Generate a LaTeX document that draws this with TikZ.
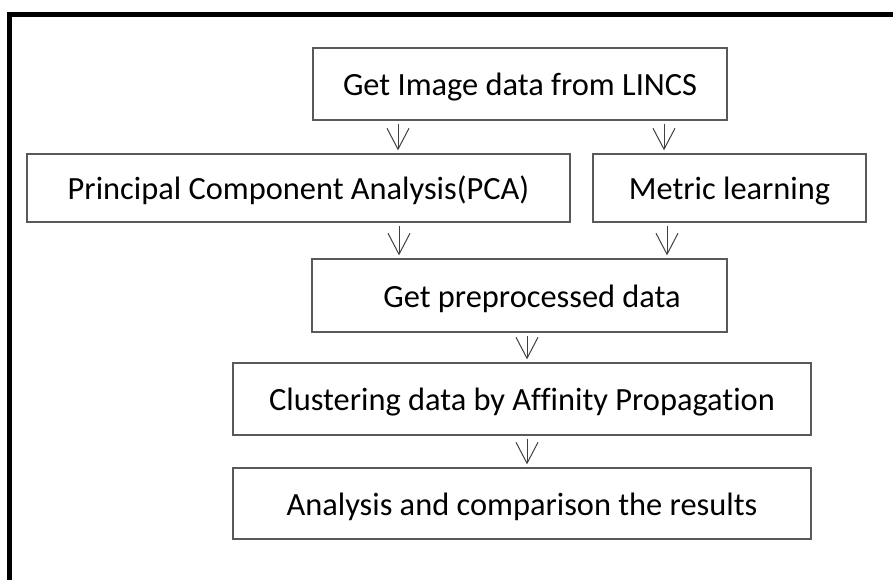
\documentclass[tikz,border=0pt]{standalone}
\usepackage{fontspec}
\setmainfont{Carlito}[Ligatures=NoCommon]
\usetikzlibrary{arrows.meta}

\tikzset{
  stage/.style={draw=black!65, line width=1.3pt, inner sep=0pt,
    text height=23.5pt, text depth=0pt,
    font=\fontsize{32.4}{38}\selectfont},
  flow/.style={draw=black!75, line width=1pt,
    -{Straight Barb[length=21pt,width=22pt]},
    shorten <=3pt, shorten >=3pt}
}

\begin{document}
\begin{tikzpicture}[x=1pt,y=-1pt]
  \useasboundingbox (0,0) rectangle (893,579);
  % outer frame, cut by the page
  \begin{scope}
    \clip (0,0) rectangle (893,579);
    \draw[line width=4.6pt] (9.7,700) -- (9.7,14.3) -- (1000,14.3);
  \end{scope}

  \foreach \n/\x/\y/\w/\h/\t in
  {lincs/520/84/414/72/Get Image data from LINCS,
   pca/298.5/188/543/68/Principal Component Analysis(PCA),
   metric/729.5/188/273/68/Metric learning,
   prep/519.5/295.5/415/73/\hspace*{25pt}Get preprocessed data,
   clus/522/399/578/72/Clustering data by Affinity Propagation,
   res/522/503.5/578/71/Analysis and comparison the results}{
    \node[stage, minimum width=\w, minimum height=\h] (\n) at (\x,\y) {\t};
  }

  \foreach \a/\b/\x in
  {lincs/pca/398, lincs/metric/664, pca/prep/399, metric/prep/667,
   prep/clus/527, clus/res/527}{
    \draw[flow] (\a.south -| \x,0) -- (\b.north -| \x,0);
  }
\end{tikzpicture}
\end{document}
